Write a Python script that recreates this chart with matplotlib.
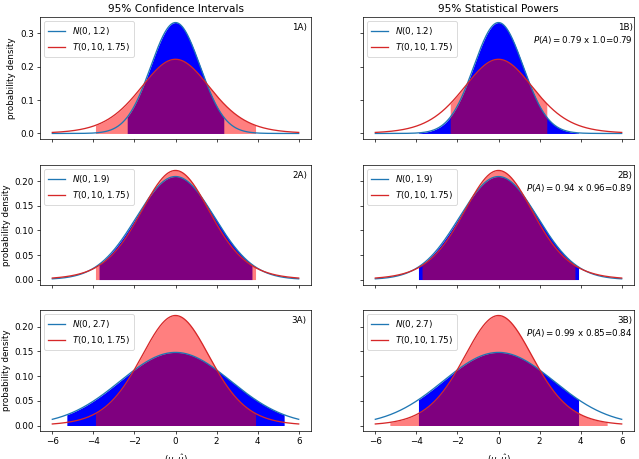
import math
import numpy as np
import matplotlib
matplotlib.use("Agg")
import matplotlib.pyplot as plt

# ---- data ----
normal_sigmas = [1.2, 1.9, 2.7]
t_df = 10
t_loc = 0.0
t_scale = 1.75
z_crit = 1.96
t_crit = 2.228
x_min, x_max = -6.0, 6.0
power_t = ["0.79", "0.94", "0.99"]
power_n = ["1.0", "0.96", "0.85"]
power_prod = ["0.79", "0.89", "0.84"]
left_tags = ["1A)", "2A)", "3A)"]
right_tags = ["1B)", "2B)", "3B)"]
col_titles = ["95% Confidence Intervals", "95% Statistical Powers"]


def norm_pdf(x, s):
    return np.exp(-0.5 * (x / s) ** 2) / (s * math.sqrt(2 * math.pi))


def t_pdf(x, df, loc, scale):
    t = (x - loc) / scale
    c = math.exp(math.lgamma((df + 1) / 2) - math.lgamma(df / 2)) / math.sqrt(df * math.pi)
    return c * (1 + t ** 2 / df) ** (-(df + 1) / 2) / scale


DPI = 63
fig = plt.figure(figsize=(639 / DPI, 459 / DPI), dpi=DPI)

lefts = [40 / 639, 363 / 639]
width = 271 / 639
rows = [(17, 139), (165, 285), (310, 431)]

x = np.linspace(x_min, x_max, 1000)
t_ci = t_crit * t_scale
yt = t_pdf(x, t_df, t_loc, t_scale)

axes = {}
for r, (top, bot) in enumerate(rows):
    s = normal_sigmas[r]
    yn = norm_pdf(x, s)
    n_ci = z_crit * s
    for c in range(2):
        sharex = axes.get((0, c)) if r > 0 else None
        sharey = axes.get((r, 0)) if c > 0 else None
        ax = fig.add_axes([lefts[c], 1 - bot / 459, width, (bot - top) / 459],
                          sharex=sharex, sharey=sharey)
        axes[(r, c)] = ax
        if c == 0:
            blue_lim, red_lim = n_ci, t_ci
        else:
            blue_lim, red_lim = t_ci, n_ci
        xb = np.linspace(-blue_lim, blue_lim, 800)
        xr = np.linspace(-red_lim, red_lim, 800)
        ax.fill_between(xb, norm_pdf(xb, s), color="blue", lw=0)
        ax.fill_between(xr, t_pdf(xr, t_df, t_loc, t_scale), color="red", alpha=0.5, lw=0)
        ax.plot(x, yn, color="#1f77b4", label=r"$N(0, %s)$" % s)
        ax.plot(x, yt, color="#d62728", label=r"$T(0, %d, %s)$" % (t_df, t_scale))
        ax.legend(loc="upper left")
        if c == 0:
            ax.set_ylabel("probability density")
            ax.text(0.985, 0.95, left_tags[r], transform=ax.transAxes, ha="right", va="top")
        else:
            ax.tick_params(labelleft=False)
            ax.text(0.995, 0.95,
                    right_tags[r] + "\n" + r"$P(A)=%s$ x %s=%s" % (power_t[r], power_n[r], power_prod[r]),
                    transform=ax.transAxes, ha="right", va="top", multialignment="right")
        if r < 2:
            ax.tick_params(labelbottom=False)
        else:
            ax.set_xlabel(r"$(\mu, \hat{\mu})$", labelpad=7)
        if r == 0:
            ax.set_title(col_titles[c])
        ax.set_xticks([-6, -4, -2, 0, 2, 4, 6])

fig.savefig("out.png", dpi=DPI)
